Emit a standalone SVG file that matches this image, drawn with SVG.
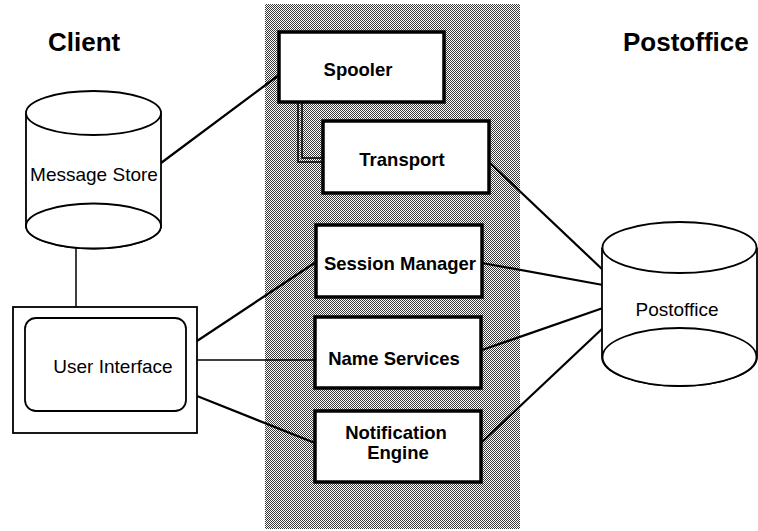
<svg xmlns="http://www.w3.org/2000/svg" width="758" height="531" viewBox="0 0 758 531">
<defs>
<pattern id="dither" width="2" height="2" patternUnits="userSpaceOnUse">
<rect width="2" height="2" fill="#ffffff"/>
<rect x="0" y="0" width="1" height="1" fill="#3a3a3a"/>
<rect x="1" y="1" width="1" height="1" fill="#3a3a3a"/>
</pattern>
</defs>
<style>
.box{fill:#fff;stroke:#000;stroke-width:3.5}
.cyl{fill:#fff;stroke:#000;stroke-width:1.8}
.bl{font-family:"Liberation Sans",Arial,sans-serif;font-weight:bold;font-size:18.5px;fill:#000;text-anchor:middle}
.rl{font-family:"Liberation Sans",Arial,sans-serif;font-size:19px;fill:#000;text-anchor:middle}
.title{font-family:"Liberation Sans",Arial,sans-serif;font-weight:bold;font-size:26px;fill:#000}
.ln{fill:none;stroke:#000;stroke-width:2.2}
.thin{fill:none;stroke:#000;stroke-width:1.5}
</style>
<rect width="758" height="531" fill="#fff"/>
<rect id="shade" x="265" y="4" width="255" height="525" fill="url(#dither)"/>
<text class="title" x="48" y="51">Client</text>
<text class="title" x="623" y="51">Postoffice</text>
<g id="connectors">
<line class="ln" x1="161" y1="163" x2="279" y2="75"/>
<path class="thin" d="M298 102 V162 H322" stroke-width="1"/>
<path class="thin" d="M302 102 V158 H322" stroke-width="1"/>
<line class="thin" x1="76" y1="248" x2="76" y2="307"/>
<line class="ln" x1="197" y1="341" x2="316" y2="262"/>
<line class="thin" x1="197" y1="360" x2="315" y2="360"/>
<line class="ln" x1="197" y1="396" x2="315" y2="443"/>
<line class="ln" x1="489" y1="162" x2="603" y2="270"/>
<line class="ln" x1="482" y1="263" x2="603" y2="285"/>
<line class="ln" x1="482" y1="350" x2="603" y2="308"/>
<line class="ln" x1="482" y1="442" x2="603" y2="328"/>
</g>
<g id="spooler">
<rect class="box" x="279" y="32" width="165" height="70"/>
<text class="bl" x="358" y="76">Spooler</text>
</g>
<g id="transport">
<rect class="box" x="323" y="121" width="166" height="72"/>
<text class="bl" x="402" y="166">Transport</text>
</g>
<g id="session-manager">
<rect class="box" x="316" y="225" width="166" height="72"/>
<text class="bl" x="400" y="270">Session Manager</text>
</g>
<g id="name-services">
<rect class="box" x="315" y="317" width="166" height="71"/>
<text class="bl" x="394" y="365">Name Services</text>
</g>
<g id="notification-engine">
<rect class="box" x="315" y="411" width="166" height="71"/>
<text class="bl" x="396" y="439">Notification</text>
<text class="bl" x="398" y="459">Engine</text>
</g>
<g id="message-store">
<path class="cyl" d="M26 113 V226 A67.5 22.5 0 0 0 161 226 V113"/>
<ellipse class="cyl" cx="93.5" cy="113" rx="67.5" ry="22"/>
<ellipse class="cyl" cx="93.5" cy="226" rx="67.5" ry="22.5"/>
<text class="rl" x="94" y="181">Message Store</text>
</g>
<g id="user-interface">
<rect x="13" y="307" width="184" height="126" fill="#fff" stroke="#000" stroke-width="1.8"/>
<rect x="25" y="318" width="161" height="93" rx="11" fill="#fff" stroke="#000" stroke-width="1.8"/>
<text class="rl" x="113" y="373">User Interface</text>
</g>
<g id="postoffice">
<path class="cyl" d="M602 247.5 V357 A77.5 29 0 0 0 757 357 V247.5"/>
<ellipse class="cyl" cx="679.5" cy="247.5" rx="77" ry="25.5"/>
<ellipse class="cyl" cx="679.5" cy="357" rx="77" ry="29"/>
<text class="rl" x="677" y="316">Postoffice</text>
</g>
</svg>
